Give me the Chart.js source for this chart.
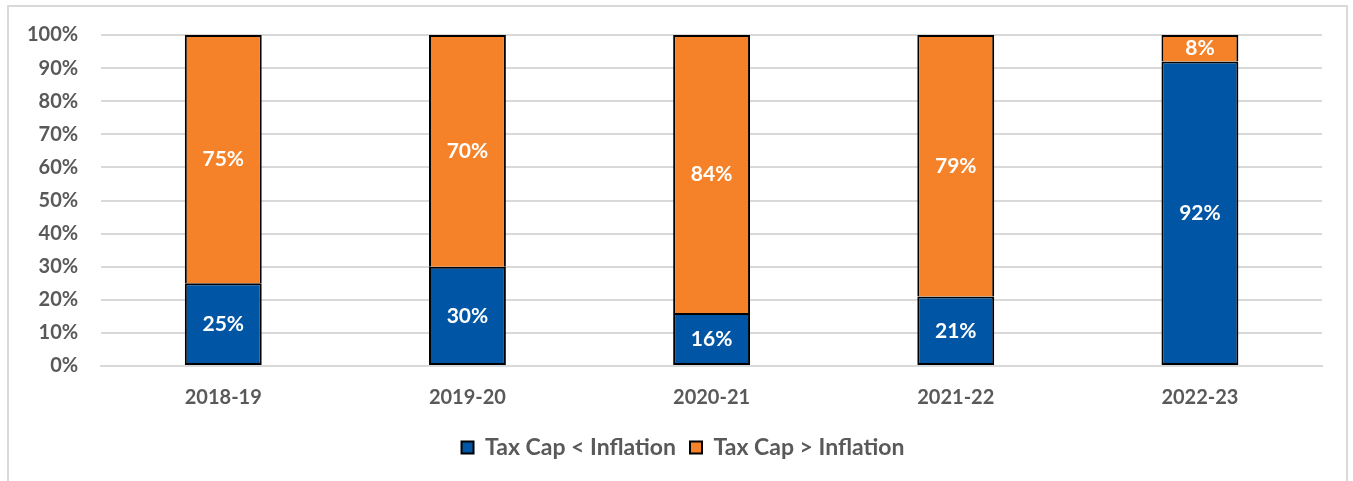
<!DOCTYPE html>
<html>
<head>
<meta charset="utf-8">
<script src="https://cdn.jsdelivr.net/npm/chart.js@4.4.1/dist/chart.umd.min.js"></script>
<style>
  html, body { margin: 0; padding: 0; background: #fff; }
  #wrap {
    position: absolute; left: 7px; top: 5px;
    width: 1341px; height: 480px;
    border: 2px solid #d9d9d9; box-sizing: border-box;
  }
  canvas { display: block; }
</style>
</head>
<body>
<div id="wrap"><canvas id="chart"></canvas></div>
<script>
// data
const years = ['2018-19', '2019-20', '2020-21', '2021-22', '2022-23'];
const belowInflation = [25, 30, 16, 21, 92];
const aboveInflation = [75, 70, 84, 79, 8];
const seriesNames = ['Tax Cap < Inflation', 'Tax Cap > Inflation'];

const FONT = 'Lato, "Open Sans", sans-serif';
const GRAY = '#595959';

// value labels drawn in the middle of each bar segment
const barLabels = {
  id: 'barLabels',
  afterDatasetsDraw(chart) {
    const ctx = chart.ctx;
    ctx.save();
    ctx.fillStyle = '#fff';
    ctx.font = 'bold 21px ' + FONT;
    ctx.textAlign = 'center';
    ctx.textBaseline = 'middle';
    chart.data.datasets.forEach((ds, i) => {
      chart.getDatasetMeta(i).data.forEach((bar, j) => {
        const y = (bar.y + bar.base) / 2;
        ctx.fillText(ds.data[j] + '%', bar.x, y);
      });
    });
    ctx.restore();
  }
};

// legend sits a bit right of the canvas centre in the original
const legendShift = {
  id: 'legendShift',
  afterLayout(chart) {
    chart.legend.left += 20;
    chart.legend.right += 20;
  }
};

new Chart(document.getElementById('chart'), {
  type: 'bar',
  data: {
    labels: years,
    datasets: [
      {
        label: seriesNames[0],
        data: belowInflation,
        backgroundColor: '#0055a4',
        borderColor: '#000',
        borderWidth: { left: 2, right: 2, bottom: 2, top: 2 },
        borderSkipped: false,
        categoryPercentage: 1,
        barPercentage: 0.315
      },
      {
        label: seriesNames[1],
        data: aboveInflation,
        backgroundColor: '#f58228',
        borderColor: '#000',
        borderWidth: { left: 2, right: 2, bottom: 0, top: 2 },
        borderSkipped: false,
        categoryPercentage: 1,
        barPercentage: 0.315
      }
    ]
  },
  options: {
    responsive: true,
    maintainAspectRatio: false,
    animation: false,
    layout: { padding: { left: -5, right: 24, top: 0, bottom: 14 } },
    plugins: {
      legend: {
        position: 'bottom',
        labels: {
          color: GRAY,
          font: { family: FONT, size: 23, weight: 'bold' },
          boxWidth: 12,
          boxHeight: 12,
          padding: 14,
          generateLabels(chart) {
            return chart.data.datasets.map((ds, i) => ({
              text: ds.label,
              fillStyle: ds.backgroundColor,
              strokeStyle: '#000',
              lineWidth: 2,
              fontColor: GRAY,
              datasetIndex: i
            }));
          }
        }
      },
      tooltip: { enabled: false }
    },
    scales: {
      x: {
        stacked: true,
        grid: { display: false },
        border: { color: '#d9d9d9', width: 2 },
        ticks: {
          color: GRAY,
          padding: 12,
          font: { family: FONT, size: 20, weight: 'bold' }
        }
      },
      y: {
        stacked: true,
        min: 0,
        max: 100,
        grid: { color: '#d9d9d9', lineWidth: 2, drawTicks: false },
        border: { display: false },
        ticks: {
          stepSize: 10,
          padding: 23,
          color: GRAY,
          font: { family: FONT, size: 20, weight: 'bold', lineHeight: 0.5 },
          callback: v => v + '%'
        }
      }
    }
  },
  plugins: [barLabels, legendShift]
});
</script>
</body>
</html>
